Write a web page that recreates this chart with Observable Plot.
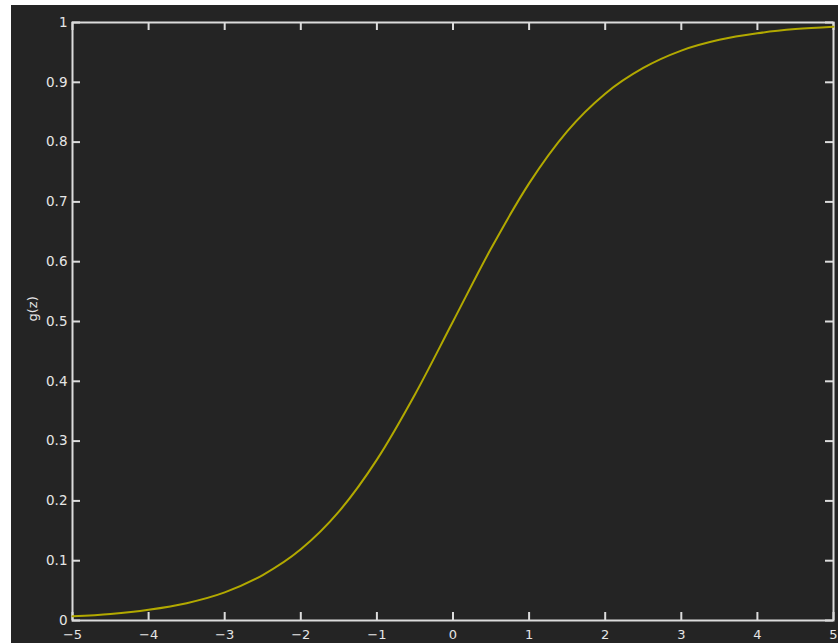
<!DOCTYPE html>
<html>
<head>
<meta charset="utf-8">
<script src="https://cdn.jsdelivr.net/npm/d3@7"></script>
<script src="https://cdn.jsdelivr.net/npm/@observablehq/plot@0.6"></script>
<style>
  html, body { margin: 0; padding: 0; background: #ffffff; }
  #wrap { position: absolute; left: 11px; top: 5px; width: 827px; height: 638px; background: #242424; }
</style>
</head>
<body>
<div id="wrap"></div>
<script>
// Values
const zValues = [-5, -4.5, -4, -3.5, -3, -2.5, -2, -1.5, -1, -0.5, 0, 0.5, 1, 1.5, 2, 2.5, 3, 3.5, 4, 4.5, 5];
const gValues = [0.007, 0.011, 0.018, 0.029, 0.047, 0.076, 0.119, 0.182, 0.269, 0.378, 0.5, 0.622, 0.731, 0.818, 0.881, 0.924, 0.953, 0.971, 0.982, 0.989, 0.993];
const xTicks = [-5, -4, -3, -2, -1, 0, 1, 2, 3, 4, 5];
const yTicks = [0, 0.1, 0.2, 0.3, 0.4, 0.5, 0.6, 0.7, 0.8, 0.9, 1];
const yLabel = "g(z)";

const data = zValues.map((z, i) => ({z, g: gValues[i]}));

const W = 827, H = 638;
const mL = 61, mR = 5, mT = 17, mB = 23;
const iW = W - mL - mR, iH = H - mT - mB;
const fg = "#dcdcdc";
const txt = "#e6e6e6";
const tickLen = 8;

const chart = Plot.plot({
  width: W,
  height: H,
  marginLeft: mL,
  marginRight: mR,
  marginTop: mT,
  marginBottom: mB,
  style: {background: "transparent", color: fg, fontFamily: "DejaVu Sans, sans-serif", fontSize: "13px"},
  x: {domain: [-5, 5]},
  y: {domain: [0, 1]},
  marks: [
    Plot.axisX(xTicks, {anchor: "bottom", tickSize: 0, tickPadding: 9, fill: txt, fontSize: 13, label: null, tickFormat: d3.format("")}),
    Plot.axisY(yTicks, {anchor: "left", tickSize: 0, tickPadding: 5, fill: txt, fontSize: 13.5, label: null, tickFormat: d3.format("")}),
    // inward ticks on all four sides
    Plot.ruleX(xTicks, {x: d => d, insetTop: iH - tickLen, stroke: fg, strokeWidth: 2}),
    Plot.ruleX(xTicks, {x: d => d, insetBottom: iH - tickLen, stroke: fg, strokeWidth: 2}),
    Plot.ruleY(yTicks, {y: d => d, insetRight: iW - tickLen, stroke: fg, strokeWidth: 2}),
    Plot.ruleY(yTicks, {y: d => d, insetLeft: iW - tickLen, stroke: fg, strokeWidth: 2}),
    Plot.frame({stroke: fg, strokeWidth: 2}),
    Plot.line(data, {x: "z", y: "g", stroke: "#b2a900", strokeWidth: 2, curve: "monotone-x"}),
    Plot.text([yLabel], {frameAnchor: "left", dx: -40, rotate: -90, fill: txt, fontSize: 13})
  ]
});
document.getElementById("wrap").appendChild(chart);
</script>
</body>
</html>
